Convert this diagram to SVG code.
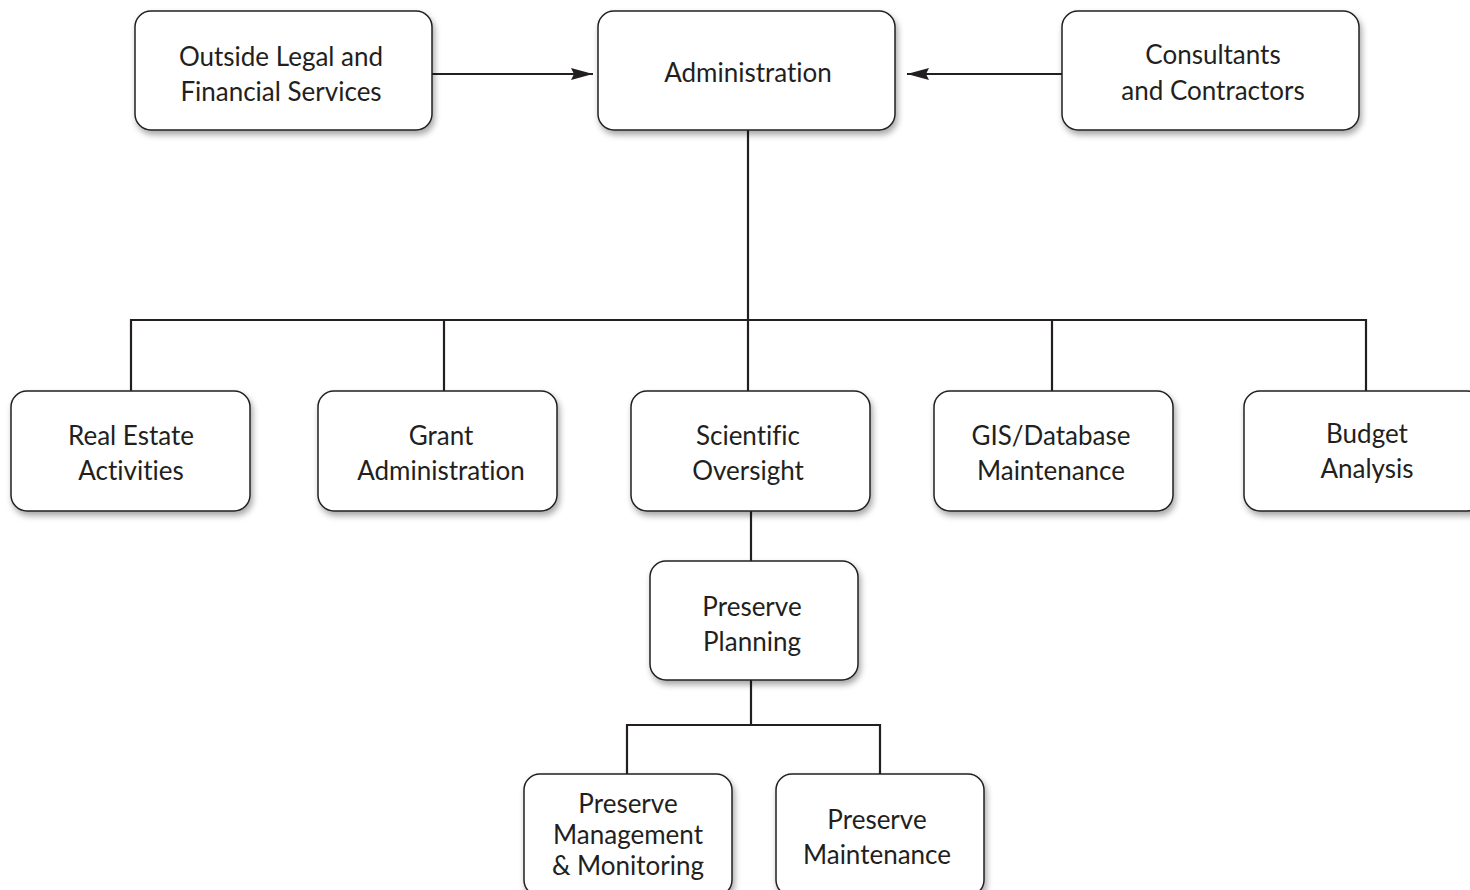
<svg xmlns="http://www.w3.org/2000/svg" width="1470" height="890" viewBox="0 0 1470 890">
<style>
.box{fill:#fff;stroke:#231f20;stroke-width:1.5;filter:url(#sh)}
.t{font-family:Lato,"Open Sans",sans-serif;font-size:26px;fill:#231f20;text-anchor:middle;font-variant-ligatures:none}
.c{fill:none;stroke:#231f20;stroke-width:2.2}
</style>
<defs>
<filter id="sh" x="-10%" y="-10%" width="130%" height="140%">
<feDropShadow dx="2" dy="4" stdDeviation="3" flood-color="#000" flood-opacity="0.35"/>
</filter>
<marker id="ah" viewBox="0 0 22 12" refX="22" refY="6" markerWidth="22" markerHeight="12" markerUnits="userSpaceOnUse" orient="auto">
<path d="M0,0 L22,6 L0,12 L3,6 z" fill="#231f20"/>
</marker>
</defs>
<rect width="1470" height="890" fill="#fff"/>
<g id="connectors">
<path class="c" d="M432,74 H593" marker-end="url(#ah)"/>
<path class="c" d="M1062,74 H907" marker-end="url(#ah)"/>
<path class="c" d="M748,130 V391"/>
<path class="c" d="M131,391 V320 H1366 V391"/>
<path class="c" d="M444,320 V391"/>
<path class="c" d="M1052,320 V391"/>
<path class="c" d="M751,511 V561"/>
<path class="c" d="M751,680 V725"/>
<path class="c" d="M627,774 V725 H880 V774"/>
</g>
<g id="n-outside"><rect class="box" x="135" y="11" width="297" height="119" rx="16"/><text class="t" x="281" y="66">Outside Legal and</text><text class="t" x="281" y="101">Financial Services</text></g>
<g id="n-admin"><rect class="box" x="598" y="11" width="297" height="119" rx="16"/><text class="t" x="748" y="82">Administration</text></g>
<g id="n-consult"><rect class="box" x="1062" y="11" width="297" height="119" rx="16"/><text class="t" x="1213" y="64">Consultants</text><text class="t" x="1213" y="100">and Contractors</text></g>
<g id="n-realestate"><rect class="box" x="11" y="391" width="239" height="120" rx="16"/><text class="t" x="131" y="445">Real Estate</text><text class="t" x="131" y="480">Activities</text></g>
<g id="n-grant"><rect class="box" x="318" y="391" width="239" height="120" rx="16"/><text class="t" x="441" y="445">Grant</text><text class="t" x="441" y="480">Administration</text></g>
<g id="n-scientific"><rect class="box" x="631" y="391" width="239" height="120" rx="16"/><text class="t" x="748" y="445">Scientific</text><text class="t" x="748" y="480">Oversight</text></g>
<g id="n-gis"><rect class="box" x="934" y="391" width="239" height="120" rx="16"/><text class="t" x="1051" y="445">GIS/Database</text><text class="t" x="1051" y="480">Maintenance</text></g>
<g id="n-budget"><rect class="box" x="1244" y="391" width="239" height="120" rx="16"/><text class="t" x="1367" y="443">Budget</text><text class="t" x="1367" y="478">Analysis</text></g>
<g id="n-planning"><rect class="box" x="650" y="561" width="208" height="119" rx="16"/><text class="t" x="752" y="616">Preserve</text><text class="t" x="752" y="651">Planning</text></g>
<g id="n-mgmt"><rect class="box" x="524" y="774" width="208" height="122" rx="16"/><text class="t" x="628" y="813">Preserve</text><text class="t" x="628" y="844">Management</text><text class="t" x="628" y="875">&amp; Monitoring</text></g>
<g id="n-maint"><rect class="box" x="776" y="774" width="208" height="122" rx="16"/><text class="t" x="877" y="829">Preserve</text><text class="t" x="877" y="864">Maintenance</text></g>
</svg>
